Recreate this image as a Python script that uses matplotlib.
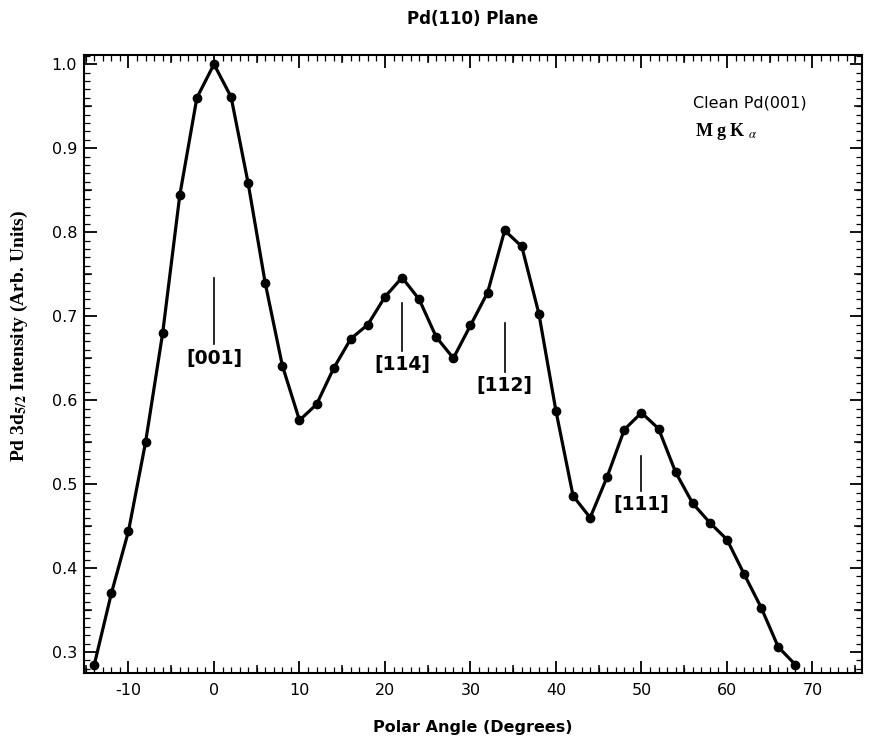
import matplotlib
matplotlib.use("Agg")
import matplotlib.pyplot as plt
from matplotlib.ticker import MultipleLocator, FixedLocator, NullFormatter

plt.rcParams['axes.unicode_minus'] = False
plt.rcParams['mathtext.fontset'] = 'stix'

# dados
angles = list(range(-14, 70, 2))
intensity = [0.285, 0.370, 0.444, 0.550, 0.680, 0.844, 0.960, 1.000, 0.961, 0.858,
             0.739, 0.641, 0.576, 0.595, 0.638, 0.673, 0.690, 0.723, 0.746, 0.720,
             0.675, 0.650, 0.689, 0.728, 0.802, 0.783, 0.703, 0.587, 0.486, 0.460,
             0.509, 0.565, 0.585, 0.566, 0.514, 0.477, 0.454, 0.434, 0.393, 0.353,
             0.306, 0.285]

# marcadores das direções cristalográficas
dir_labels = ["[001]", "[114]", "[112]", "[111]"]
dir_angles = [0, 22, 34, 50]
dir_top = [0.746, 0.716, 0.692, 0.534]
dir_bottom = [0.667, 0.659, 0.633, 0.492]
dir_text_y = [0.649, 0.643, 0.618, 0.476]

fig = plt.figure(figsize=(8.69, 7.38), dpi=100)
ax = fig.add_axes([0.0967, 0.088, 0.8953, 0.8375])

ax.plot(angles, intensity, color="black", linewidth=2.3, marker="o", markersize=6)

for a, top, bot, ty, lab in zip(dir_angles, dir_top, dir_bottom, dir_text_y, dir_labels):
    ax.plot([a, a], [bot, top], color="black", linewidth=1.2)
    ax.text(a, ty, lab, ha="center", va="center", fontsize=13.5, fontweight="bold",
            family="DejaVu Sans")

ax.text(0.783, 0.922, "Clean Pd(001)", transform=ax.transAxes, fontsize=11.5,
        family="DejaVu Sans", va="center")
ax.text(0.785, 0.877, r"M g K $_{\alpha}$", transform=ax.transAxes, fontsize=13,
        family="Liberation Serif", fontweight="bold", va="center")

ax.set_xlim(-15.2, 75.8)
ax.set_ylim(0.275, 1.011)

ax.xaxis.set_major_locator(MultipleLocator(10))
ax.xaxis.set_minor_locator(MultipleLocator(1))
ax.yaxis.set_major_locator(MultipleLocator(0.1))
ax.yaxis.set_minor_locator(MultipleLocator(0.01))
ax.tick_params(which="major", direction="in", length=9, width=1.3,
               top=True, right=True, labelsize=11.5)
ax.tick_params(which="minor", direction="in", length=4, width=0.9,
               top=True, right=True)
ax.tick_params(axis="x", pad=7)
ax.tick_params(axis="y", pad=5)
for lab in ax.get_xticklabels() + ax.get_yticklabels():
    lab.set_family("DejaVu Sans")

# ticks intermediários (a cada 5 graus e 0.05)
for loc in ["bottom", "top"]:
    sx = ax.secondary_xaxis(loc)
    sx.xaxis.set_major_locator(FixedLocator([v + 5 for v in range(-20, 80, 10)]))
    sx.xaxis.set_major_formatter(NullFormatter())
    sx.tick_params(direction="in", length=6, width=1.1)
    sx.spines[loc].set_visible(False)
for loc in ["left", "right"]:
    sy = ax.secondary_yaxis(loc)
    sy.yaxis.set_major_locator(FixedLocator([0.25 + 0.1 * i for i in range(9)]))
    sy.yaxis.set_major_formatter(NullFormatter())
    sy.tick_params(direction="in", length=6, width=1.1)
    sy.spines[loc].set_visible(False)

for s in ax.spines.values():
    s.set_linewidth(1.5)

ax.set_title("Pd(110) Plane", fontsize=12, fontweight="bold", family="DejaVu Sans", pad=22)
ax.set_xlabel("Polar Angle (Degrees)", fontsize=11.5, fontweight="bold", family="DejaVu Sans",
              labelpad=16)
ax.set_ylabel(r"Pd 3d$_{\mathbf{5/2}}$ Intensity (Arb. Units)", fontsize=14, fontweight="bold",
              family="Liberation Serif")
ax.yaxis.set_label_coords(-0.069, 0.545)

fig.savefig("out.png", dpi=100)
